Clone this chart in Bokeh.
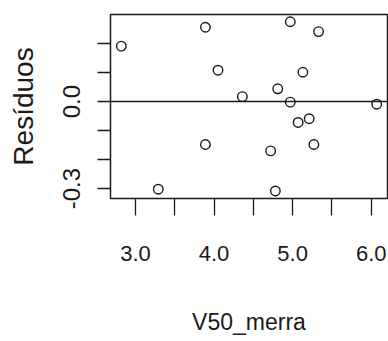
from bokeh.plotting import figure
from bokeh.models import FixedTicker, PrintfTickFormatter, Span
from bokeh.embed import file_html
from bokeh.resources import INLINE

# Data
v50_merra = [2.82, 3.29, 3.89, 3.89, 4.05, 4.36, 4.72, 4.78, 4.81, 4.97,
             4.97, 5.07, 5.13, 5.21, 5.27, 5.33, 6.07]
residuos = [0.191, -0.302, 0.256, -0.148, 0.108, 0.017, -0.170, -0.308, 0.044,
            0.275, -0.002, -0.072, 0.101, -0.059, -0.148, 0.241, -0.009]

x_major_ticks = [3.0, 4.0, 5.0, 6.0]
x_minor_ticks = [3.5, 4.5, 5.5]
y_major_ticks = [-0.3, 0.0]
y_minor_ticks = [-0.2, -0.1, 0.1, 0.2]

INK = "#1a1a1a"
FONT = "Liberation Sans"

p = figure(width=388, height=341, x_range=(2.682, 6.207), y_range=(-0.334, 0.300),
           output_backend="svg", toolbar_location=None,
           min_border_left=110, min_border_right=1, min_border_top=14, min_border_bottom=143)

p.background_fill_color = "white"
p.border_fill_color = "white"
p.outline_line_color = INK
p.outline_line_width = 1.5
p.xgrid.visible = False
p.ygrid.visible = False

# x axis
xa = p.xaxis[0]
xa.ticker = FixedTicker(ticks=x_major_ticks, minor_ticks=x_minor_ticks)
xa.formatter = PrintfTickFormatter(format="%.1f")
xa.axis_line_color = None
xa.major_tick_in = 0
xa.major_tick_out = 17
xa.minor_tick_in = 0
xa.minor_tick_out = 17
xa.major_tick_line_color = INK
xa.minor_tick_line_color = INK
xa.major_tick_line_width = 1.3
xa.minor_tick_line_width = 1.3
xa.major_label_text_font = FONT
xa.major_label_text_font_size = "22px"
xa.major_label_text_color = INK
xa.major_label_standoff = 30
xa.axis_label = "V50_merra"
xa.axis_label_text_font = FONT
xa.axis_label_text_font_size = "23px"
xa.axis_label_text_font_style = "normal"
xa.axis_label_text_color = INK
xa.axis_label_standoff = 45

# y axis
ya = p.yaxis[0]
ya.ticker = FixedTicker(ticks=y_major_ticks, minor_ticks=y_minor_ticks)
ya.formatter = PrintfTickFormatter(format="%.1f")
ya.axis_line_color = None
ya.major_tick_in = 0
ya.major_tick_out = 13
ya.minor_tick_in = 0
ya.minor_tick_out = 13
ya.major_tick_line_color = INK
ya.minor_tick_line_color = INK
ya.major_tick_line_width = 1.3
ya.minor_tick_line_width = 1.3
ya.major_label_orientation = "vertical"
ya.major_label_text_font = FONT
ya.major_label_text_font_size = "24px"
ya.major_label_text_color = INK
ya.major_label_standoff = 17
ya.axis_label = "Resíduos"
ya.axis_label_text_font = FONT
ya.axis_label_text_font_size = "28px"
ya.axis_label_text_font_style = "normal"
ya.axis_label_text_color = INK
ya.axis_label_standoff = 22

p.add_layout(Span(location=0, dimension="width", line_color=INK, line_width=1.6))

p.scatter(v50_merra, residuos, size=9.5, marker="circle", fill_color=None,
          line_color=INK, line_width=1.4)

open("out.html", "w").write(file_html(p, INLINE))
